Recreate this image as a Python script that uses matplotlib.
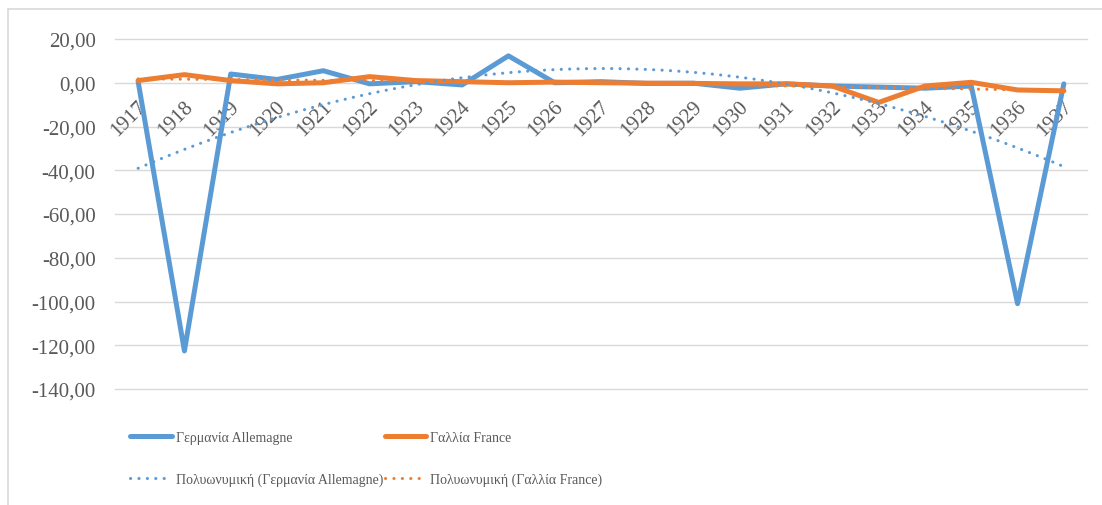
import matplotlib
matplotlib.use('Agg')
import matplotlib.pyplot as plt
from matplotlib.lines import Line2D
import numpy as np

years = [str(y) for y in range(1917, 1938)]
germany = [0.5, -122.6, 4.0, 1.5, 5.5, -0.5, 0.5, -1.0, 12.3, 0.0, 0.5,
           -0.3, -0.2, -2.5, -0.5, -1.5, -2.0, -2.5, -1.5, -101.0, -0.5]
france = [1.0, 3.7, 1.0, -0.5, 0.0, 2.8, 1.0, 0.5, 0.0, 0.3, 0.0,
          -0.2, -0.3, -0.5, -0.5, -1.5, -9.0, -1.5, 0.2, -3.3, -3.7]
yticks = [20, 0, -20, -40, -60, -80, -100, -120, -140]

blue = '#5B9BD5'
orange = '#ED7D31'
grey = '#595959'
plt.rcParams['font.family'] = ['Liberation Serif', 'DejaVu Serif']

fig = plt.figure(figsize=(11.02, 5.06), dpi=100)
ax = fig.add_axes([115/1102, 1-390/506, 972/1102, 350/506])

x = np.arange(len(years))
xs = np.linspace(0, len(years)-1, 300)
# polynomial trendlines (order 2, like excel)
cg = np.polyfit(x + 1, germany, 2)
cf = np.polyfit(x + 1, france, 2)

for v in yticks:
    ax.axhline(v, color='#D9D9D9', lw=1.0, zorder=0, clip_on=False)

ax.plot(x, germany, color=blue, lw=3.6, solid_joinstyle='round', solid_capstyle='round', zorder=2)
ax.plot(x, france, color=orange, lw=3.6, solid_joinstyle='round', solid_capstyle='round', zorder=3)
dots = (0, (0.05, 2.7))
ax.plot(xs, np.polyval(cg, xs + 1), color=blue, lw=2.2, ls=dots, dash_capstyle='round', zorder=4)
ax.plot(xs, np.polyval(cf, xs + 1), color=orange, lw=2.2, ls=dots, dash_capstyle='round', zorder=5)

ax.set_xlim(-0.5, len(years) - 0.5)
ax.set_ylim(-140, 20)
ax.set_yticks(yticks)
ax.set_yticklabels([f'{v:.2f}'.replace('.', ',') for v in yticks])
ax.tick_params(axis='y', length=0, pad=14, labelsize=15, labelcolor=grey)
ax.set_xticks([])
for s in ax.spines.values():
    s.set_visible(False)

for i, yr in enumerate(years):
    ax.text(i + 0.12, -9.5, yr, rotation=45, rotation_mode='anchor',
            ha='right', va='center', fontsize=15, color=grey, zorder=1)

handles = [
    Line2D([], [], color=blue, lw=3.6, solid_capstyle='round'),
    Line2D([], [], color=blue, lw=2.2, ls=dots, dash_capstyle='round'),
    Line2D([], [], color=orange, lw=3.6, solid_capstyle='round'),
    Line2D([], [], color=orange, lw=2.2, ls=dots, dash_capstyle='round'),
]
labels = ['Γερμανία Allemagne', 'Πολυωνυμική (Γερμανία Allemagne)',
          'Γαλλία France', 'Πολυωνυμική (Γαλλία France)']
leg = fig.legend(handles, labels, ncol=2, loc='upper left',
                 bbox_to_anchor=(130/1102, 1-432/506), frameon=False,
                 fontsize=10, handlelength=3.0, handletextpad=0.3,
                 columnspacing=0.1, labelspacing=2.05, borderpad=0,
                 borderaxespad=0)
for t in leg.get_texts():
    t.set_color(grey)

fig.add_artist(Line2D([8/1102, 8/1102], [0, 1-10/506], transform=fig.transFigure, color='#D9D9D9', lw=1.2))
fig.add_artist(Line2D([8/1102, 1], [1-10/506, 1-10/506], transform=fig.transFigure, color='#D9D9D9', lw=1.2))

fig.savefig('out.png', dpi=100)
